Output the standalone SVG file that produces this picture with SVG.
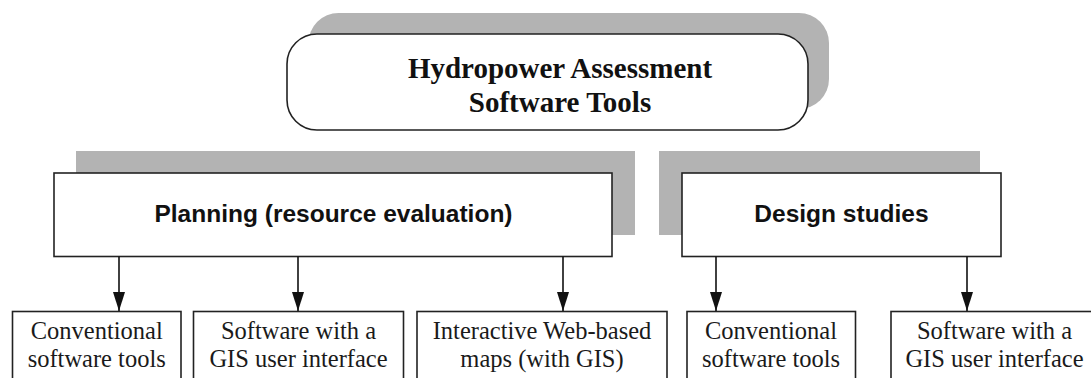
<svg xmlns="http://www.w3.org/2000/svg" width="1091" height="378" viewBox="0 0 1091 378">
  <style>
    .shadow { fill: #b3b3b3; stroke: none; }
    .box { fill: #ffffff; stroke: #222222; stroke-width: 1.6; }
    .title { font-family: "Liberation Serif", "Times New Roman", serif; font-weight: bold; font-size: 29px; fill: #111111; text-anchor: middle; }
    .head { font-family: "Liberation Sans", Arial, sans-serif; font-weight: bold; font-size: 24.5px; fill: #111111; text-anchor: middle; }
    .leaf { font-family: "Liberation Serif", "Times New Roman", serif; font-size: 24.5px; fill: #1a1a1a; text-anchor: middle; }
    .conn { stroke: #111111; stroke-width: 1.6; fill: none; marker-end: url(#arrow); }
  </style>
  <defs>
    <marker id="arrow" viewBox="0 0 19 12" refX="19" refY="6" markerWidth="19" markerHeight="12" markerUnits="userSpaceOnUse" orient="auto">
      <path d="M0,0 L19,6 L0,12 Z" fill="#111111"/>
    </marker>
  </defs>

  <!-- root -->
  <g id="root">
    <rect class="shadow" x="308.5" y="13" width="520.5" height="96" rx="30" ry="30"/>
    <rect class="box" x="287" y="34" width="521" height="96" rx="30" ry="30" stroke-width="2"/>
    <text class="title" x="560" y="78">Hydropower Assessment</text>
    <text class="title" x="560" y="112">Software Tools</text>
  </g>

  <!-- second level -->
  <g id="planning">
    <rect class="shadow" x="76" y="151" width="559" height="84"/>
    <rect class="box" x="54" y="173" width="558" height="83.5"/>
    <text class="head" x="333.5" y="222">Planning (resource evaluation)</text>
  </g>
  <g id="design">
    <rect class="shadow" x="659" y="151" width="321" height="84"/>
    <rect class="box" x="682" y="173" width="319" height="83.5"/>
    <text class="head" x="841.5" y="222">Design studies</text>
  </g>

  <!-- leaves -->
  <g id="plan-conventional">
    <rect class="box" x="12.5" y="311.5" width="168.5" height="80"/>
    <text class="leaf" x="96.7" y="338.5">Conventional</text>
    <text class="leaf" x="96.7" y="366.5">software tools</text>
  </g>
  <g id="plan-gis">
    <rect class="box" x="193.5" y="311.5" width="210" height="80"/>
    <text class="leaf" x="298.5" y="338.5">Software with a</text>
    <text class="leaf" x="298.5" y="366.5">GIS user interface</text>
  </g>
  <g id="plan-web">
    <rect class="box" x="417" y="311.5" width="250" height="80"/>
    <text class="leaf" x="542" y="338.5">Interactive Web-based</text>
    <text class="leaf" x="542" y="366.5">maps  (with GIS)</text>
  </g>
  <g id="design-conventional">
    <rect class="box" x="687" y="311.5" width="168.5" height="80"/>
    <text class="leaf" x="771" y="338.5">Conventional</text>
    <text class="leaf" x="771" y="366.5">software tools</text>
  </g>
  <g id="design-gis">
    <rect class="box" x="891" y="311.5" width="210" height="80"/>
    <text class="leaf" x="994.5" y="338.5">Software with a</text>
    <text class="leaf" x="994.5" y="366.5">GIS user interface</text>
  </g>

  <!-- connectors -->
  <g id="connectors">
    <line class="conn" x1="119" y1="256.5" x2="119" y2="311"/>
    <line class="conn" x1="298" y1="256.5" x2="298" y2="311"/>
    <line class="conn" x1="563" y1="256.5" x2="563" y2="311"/>
    <line class="conn" x1="716" y1="256.5" x2="716" y2="311"/>
    <line class="conn" x1="967" y1="256.5" x2="967" y2="311"/>
  </g>
</svg>
